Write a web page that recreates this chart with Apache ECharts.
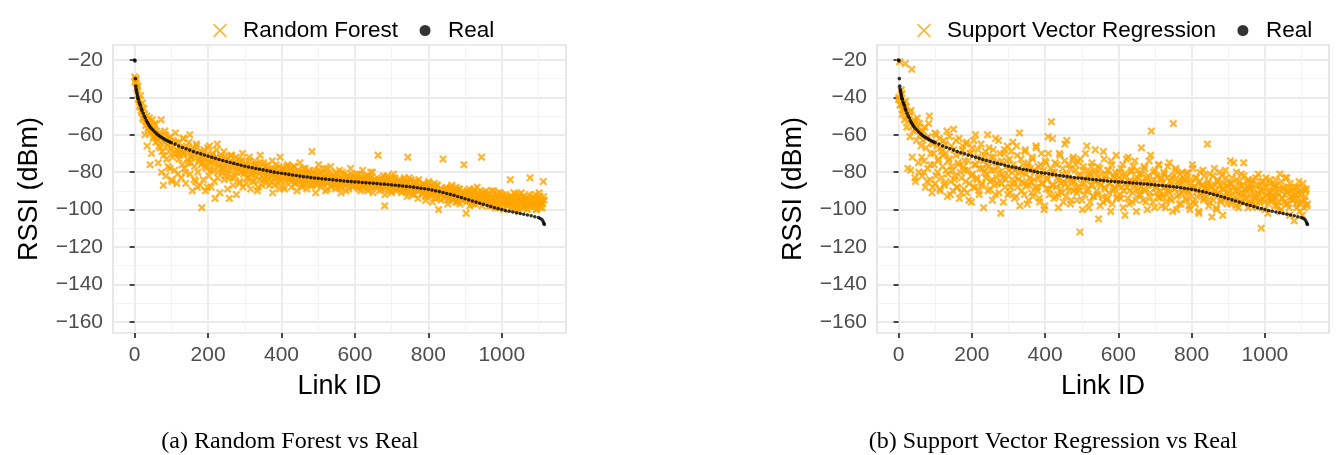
<!DOCTYPE html>
<html>
<head>
<meta charset="utf-8">
<title>RSSI prediction vs real</title>
<script src="https://cdn.jsdelivr.net/npm/echarts@6.0.0/dist/echarts.min.js"></script>
<style>
  html, body { margin: 0; padding: 0; background: #fff; }
  #chart { width: 1339px; height: 455px; }
</style>
</head>
<body>
<div id="chart"></div>
<script>
// measured RSSI, sorted by link, dense at the start where it drops fast
const realLinkIds = [0, 1, 2, 3, 4, 5, 6, 7, 8, 9, 10, 12, 14, 16, 18, 20, 23, 26, 29, 32, 35, 38, 41, 45, 50, 55, 60, 65, 70, 75, 80, 85, 90, 95,
  100, 110, 120, 130, 140, 150, 160, 170, 180, 190, 200, 210, 220, 230, 240, 250, 260, 270, 280, 290,
  300, 310, 320, 330, 340, 350, 360, 370, 380, 390, 400, 410, 420, 430, 440, 450, 460, 470, 480, 490,
  500, 510, 520, 530, 540, 550, 560, 570, 580, 590, 600, 610, 620, 630, 640, 650, 660, 670, 680, 690,
  700, 710, 720, 730, 740, 750, 760, 770, 780, 790, 800, 810, 820, 830, 840, 850, 860, 870, 880, 890,
  900, 910, 920, 930, 940, 950, 960, 970, 980, 990, 1000, 1010, 1020, 1030, 1040, 1050, 1060, 1070, 1080, 1090,
  1100, 1105, 1110, 1113, 1115, 1116];
const realRssi = [-20, -20.5, -30, -34, -35.5, -36.5, -37.5, -38.5, -39.5, -40.5, -41, -42.5, -43.5, -44.5, -46, -47, -48.5, -50, -51, -52.5, -53.5, -54.5, -55.5, -56.5, -57.5, -58.5, -59.5, -60.3, -61, -61.6, -62.2, -62.8, -63.3, -63.8,
  -64.3, -65, -66, -66.8, -67.5, -68.2, -69, -69.6, -70.2, -70.8, -71.4, -72, -72.6, -73.2, -73.8, -74.3, -74.8, -75.3, -75.8, -76.3,
  -76.8, -77.2, -77.6, -78, -78.4, -78.8, -79.2, -79.6, -80, -80.3, -80.6, -80.9, -81.2, -81.5, -81.8, -82.1, -82.4, -82.6, -82.9, -83.1,
  -83.3, -83.5, -83.7, -83.9, -84.1, -84.3, -84.5, -84.7, -84.9, -85.05, -85.2, -85.3, -85.5, -85.6, -85.8, -85.9, -86.1, -86.3, -86.4, -86.6,
  -86.8, -87, -87.2, -87.4, -87.6, -87.8, -88, -88.3, -88.6, -88.9, -89.2, -89.6, -90, -90.4, -90.9, -91.4, -91.9, -92.4, -93, -93.6,
  -94.2, -94.8, -95.4, -96, -96.6, -97.2, -97.8, -98.4, -99, -99.5, -100, -100.5, -100.9, -101.3, -101.7, -102.1, -102.5, -102.9, -103.3, -103.8,
  -104.3, -104.8, -105.5, -106.5, -107.5, -108];

// predicted RSSI: the A lists hold links 0, 3, 6, ... and the B lists links 1, 4, 7, ...
const LINK_STEP = 3;
const rfRssiA = [
  -29, -31, -35, -34, -41, -44, -47, -43, -52, -49, -55, -50, -57, -53, -76, -58, -52, -62, -55, -60,
  -58, -63, -66, -61, -52, -69, -87, -64, -60, -73, -66, -62, -78, -67, -85, -63, -70, -59, -68, -81,
  -64, -71, -68, -76, -62, -70, -80, -66, -73, -69, -60, -75, -72, -67, -84, -71, -65, -88, -74, -69,
  -72, -99, -75, -68, -77, -71, -88, -74, -66, -79, -73, -70, -76, -94, -72, -65, -80, -75, -71, -78,
  -75, -69, -82, -76, -73, -79, -94, -74, -71, -83, -77, -75, -72, -80, -78, -86, -74, -77, -70, -81,
  -79, -75, -83, -78, -72, -81, -77, -85, -79, -74, -80, -76, -88, -78, -71, -82, -79, -75, -84, -77,
  -80, -76, -84, -79, -82, -74, -81, -87, -78, -80, -83, -77, -72, -85, -80, -78, -89, -82, -79, -76,
  -82, -78, -85, -80, -83, -77, -86, -81, -79, -84, -75, -82, -88, -80, -83, -78, -81, -86, -79, -84,
  -81, -69, -85, -83, -79, -87, -82, -76, -84, -80, -86, -83, -78, -85, -81, -89, -83, -80, -77, -84,
  -85, -82, -87, -80, -84, -86, -79, -83, -88, -85, -81, -84, -90, -82, -86, -83, -78, -85, -87, -82,
  -84, -87, -81, -86, -89, -83, -85, -79, -88, -84, -86, -82, -90, -85, -87, -83, -80, -86, -84, -88,
  -85, -71, -87, -84, -89, -86, -82, -98, -88, -85, -83, -87, -90, -84, -86, -81, -88, -85, -89, -86,
  -87, -84, -89, -86, -90, -83, -88, -85, -72, -91, -87, -84, -89, -86, -92, -85, -88, -90, -84, -87,
  -88, -91, -86, -89, -93, -87, -90, -85, -92, -88, -91, -89, -86, -94, -90, -87, -100, -92, -89, -91,
  -73, -90, -93, -88, -91, -95, -89, -92, -87, -94, -90, -93, -88, -96, -91, -89, -94, -92, -90, -76,
  -93, -102, -91, -95, -89, -94, -92, -97, -90, -93, -95, -88, -96, -92, -94, -72, -91, -95, -93, -90,
  -94, -96, -91, -95, -98, -93, -90, -97, -94, -92, -99, -95, -91, -96, -93, -97, -95, -92, -98, -94,
  -95, -84, -97, -93, -99, -96, -92, -98, -94, -101, -95, -91, -97, -93, -99, -96, -94, -98, -95, -83,
  -96, -99, -94, -97, -92, -100, -95, -98, -93, -96, -99, -85, -95
];
const rfRssiB = [
  -32, -30, -36, -41, -45, -39, -48, -51, -46, -60, -53, -66, -56, -51, -59, -70, -57, -61, -54, -64,
  -62, -75, -59, -67, -80, -63, -71, -58, -82, -65, -77, -69, -61, -84, -72, -66, -79, -64, -86, -70,
  -73, -67, -83, -70, -62, -78, -86, -68, -75, -64, -81, -72, -90, -69, -77, -85, -66, -80, -73, -87,
  -76, -70, -84, -73, -90, -78, -67, -82, -75, -88, -71, -79, -85, -74, -68, -83, -77, -91, -72, -80,
  -78, -84, -72, -80, -89, -76, -83, -71, -79, -87, -75, -82, -92, -77, -73, -85, -80, -74, -88, -79,
  -80, -86, -77, -83, -74, -89, -81, -78, -85, -76, -82, -90, -79, -84, -75, -87, -80, -83, -77, -86,
  -82, -78, -87, -80, -85, -91, -79, -83, -76, -86, -81, -89, -84, -78, -82, -88, -80, -85, -77, -83,
  -84, -80, -88, -83, -77, -86, -82, -90, -79, -85, -83, -87, -81, -78, -86, -84, -89, -82, -80, -87,
  -83, -87, -80, -85, -91, -82, -86, -79, -84, -88, -81, -85, -83, -90, -78, -86, -84, -82, -88, -85,
  -86, -83, -89, -81, -85, -88, -84, -91, -80, -86, -83, -87, -85, -82, -89, -84, -86, -81, -88, -85,
  -86, -83, -88, -85, -81, -90, -84, -87, -86, -82, -89, -85, -83, -88, -80, -86, -91, -84, -87, -85,
  -87, -84, -90, -86, -83, -88, -85, -92, -87, -82, -89, -86, -84, -91, -88, -85, -83, -90, -87, -86,
  -88, -85, -91, -87, -84, -90, -86, -93, -88, -83, -89, -87, -92, -85, -90, -88, -86, -94, -87, -89,
  -89, -92, -87, -90, -95, -88, -91, -86, -93, -89, -96, -90, -88, -92, -87, -94, -91, -89, -95, -90,
  -91, -94, -89, -92, -97, -90, -93, -88, -95, -91, -94, -96, -90, -93, -89, -97, -92, -95, -91, -94,
  -92, -96, -90, -94, -98, -91, -95, -93, -89, -97, -94, -92, -96, -90, -95, -98, -93, -91, -96, -94,
  -95, -92, -98, -94, -90, -97, -95, -99, -93, -96, -91, -98, -94, -97, -92, -100, -95, -93, -97, -96,
  -96, -93, -99, -95, -91, -98, -94, -100, -96, -92, -97, -95, -99, -93, -97, -94, -100, -96, -92, -98,
  -95, -98, -93, -97, -100, -94, -96, -91, -99, -95, -97, -93
];
const svrRssiA = [
  -41, -21, -44, -38, -47, -43, -22, -45, -50, -53, -48, -79, -25, -55, -52, -83, -57, -51, -75, -54,
  -58, -72, -63, -80, -56, -67, -85, -61, -50, -76, -64, -88, -70, -59, -82, -66, -74, -62, -90, -69,
  -77, -63, -86, -70, -58, -81, -73, -92, -66, -79, -57, -84, -71, -88, -75, -62, -80, -91, -68, -77,
  -74, -85, -64, -79, -95, -70, -82, -67, -88, -76, -60, -83, -72, -90, -78, -65, -86, -74, -80, -69,
  -81, -60, -77, -89, -72, -84, -68, -79, -92, -75, -86, -63, -80, -102, -74, -83, -70, -88, -77, -66,
  -82, -73, -88, -78, -64, -85, -79, -93, -71, -84, -59, -80, -90, -76, -86, -69, -81, -97, -75, -87,
  -78, -91, -73, -84, -80, -66, -88, -77, -94, -82, -70, -86, -79, -98, -75, -83, -61, -89, -81, -53,
  -62, -87, -80, -93, -76, -92, -84, -71, -89, -81, -96, -74, -86, -63, -83, -90, -78, -95, -85, -72,
  -85, -79, -91, -74, -88, -112, -82, -95, -77, -86, -70, -90, -83, -99, -80, -87, -75, -93, -84, -68,
  -81, -92, -105, -78, -87, -84, -96, -73, -89, -82, -94, -79, -86, -101, -76, -90, -83, -88, -71, -93,
  -87, -80, -94, -84, -76, -90, -103, -82, -88, -72, -97, -85, -79, -91, -86, -74, -95, -83, -89, -81,
  -92, -67, -85, -89, -78, -96, -83, -87, -74, -91, -58, -86, -80, -99, -88, -82, -93, -76, -90, -84,
  -86, -93, -81, -99, -88, -77, -91, -85, -95, -83, -54, -89, -79, -100, -87, -92, -84, -97, -80, -90,
  -89, -84, -95, -80, -91, -100, -86, -93, -78, -88, -97, -83, -90, -101, -85, -92, -87, -79, -94, -89,
  -90, -65, -85, -96, -88, -104, -82, -92, -87, -99, -84, -91, -80, -95, -89, -103, -86, -93, -83, -97,
  -88, -93, -74, -86, -95, -75, -90, -98, -84, -92, -87, -96, -81, -91, -75, -89, -94, -85, -99, -88,
  -92, -86, -97, -89, -94, -83, -99, -91, -87, -95, -110, -90, -85, -96, -93, -88, -102, -91, -84, -94,
  -90, -95, -88, -93, -87, -98, -92, -81, -100, -94, -89, -96, -83, -91, -97, -88, -103, -93, -90, -95,
  -106, -92, -97, -88, -94, -101, -90, -96, -86, -99, -93, -89, -97
];
const svrRssiB = [
  -40, -44, -36, -49, -46, -52, -42, -56, -78, -50, -61, -47, -72, -58, -53, -85, -63, -56, -80, -60,
  -66, -82, -58, -74, -88, -62, -78, -54, -84, -70, -91, -65, -76, -86, -60, -80, -73, -89, -67, -83,
  -71, -87, -65, -79, -93, -74, -61, -85, -77, -90, -68, -82, -63, -88, -76, -94, -70, -83, -66, -89,
  -79, -65, -91, -74, -86, -70, -96, -81, -63, -88, -76, -84, -68, -92, -73, -87, -78, -99, -71, -83,
  -76, -90, -67, -85, -79, -95, -72, -87, -62, -83, -77, -91, -70, -86, -81, -96, -68, -84, -74, -92,
  -79, -91, -69, -86, -76, -94, -82, -66, -88, -78, -98, -73, -85, -80, -92, -68, -87, -77, -95, -83,
  -85, -72, -93, -79, -88, -67, -90, -83, -96, -76, -86, -81, -100, -74, -89, -84, -70, -92, -78, -87,
  -80, -94, -75, -88, -83, -99, -70, -86, -91, -78, -85, -65, -93, -81, -88, -76, -97, -84, -73, -90,
  -88, -76, -95, -82, -90, -73, -86, -100, -79, -92, -84, -66, -89, -81, -96, -77, -87, -93, -80, -85,
  -90, -77, -86, -98, -81, -93, -69, -88, -84, -95, -79, -91, -86, -74, -97, -82, -89, -80, -94, -87,
  -83, -92, -78, -88, -99, -81, -86, -73, -94, -85, -90, -80, -96, -77, -88, -84, -101, -79, -92, -86,
  -88, -81, -95, -77, -90, -85, -100, -82, -93, -71, -87, -96, -84, -79, -91, -88, -76, -94, -83, -98,
  -92, -80, -88, -96, -83, -90, -75, -94, -86, -101, -82, -89, -78, -93, -85, -97, -81, -91, -88, -84,
  -85, -94, -81, -90, -98, -84, -88, -76, -96, -89, -83, -93, -86, -102, -80, -91, -87, -95, -82, -88,
  -93, -86, -98, -81, -91, -88, -95, -78, -90, -100, -85, -92, -87, -96, -82, -89, -94, -79, -91, -87,
  -91, -86, -97, -83, -92, -88, -95, -80, -90, -99, -85, -93, -87, -96, -82, -91, -94, -88, -84, -97,
  -89, -95, -84, -92, -98, -87, -93, -81, -96, -90, -85, -94, -88, -100, -83, -92, -97, -86, -91, -95,
  -93, -87, -98, -84, -91, -96, -89, -101, -85, -94, -88, -92, -97, -83, -90, -99, -86, -93, -95, -89,
  -94, -88, -99, -91, -85, -97, -92, -103, -89, -95, -90, -98
];

// axis ticks
const xTicks = [0, 200, 400, 600, 800, 1000];
const xMinorTicks = [100, 300, 500, 700, 900, 1100];
const yTicks = [-160, -140, -120, -100, -80, -60, -40, -20];
const yMinorTicks = [-150, -130, -110, -90, -70, -50, -30];

const FONT = '"Liberation Sans", Arial, Helvetica, sans-serif';
const ORANGE = '#FFA500';
const CROSS = 'path://M0,2L2,0L5,3L8,0L10,2L7,5L10,8L8,10L5,7L2,10L0,8L3,5Z';
// legend icons are padded inside a 16x16 box with the two M points
const LEGEND_CROSS = 'path://M0,0M16,16M1,2.2L2.2,1L8,6.8L13.8,1L15,2.2L9.2,8L15,13.8L13.8,15L8,9.2L2.2,15L1,13.8L6.8,8Z';
const LEGEND_DOT = 'path://M0,0M16,16M2.5,8A5.5,5.5,0,1,1,13.5,8A5.5,5.5,0,1,1,2.5,8Z';

const toPoints = (vals, offset) => vals.map((v, i) => [i * LINK_STEP + offset, v]);
const realPoints = realLinkIds.map((id, i) => [id, realRssi[i]]);
const rfPoints = toPoints(rfRssiA, 0).concat(toPoints(rfRssiB, 1));
const svrPoints = toPoints(svrRssiA, 0).concat(toPoints(svrRssiB, 1));

const minusSign = v => String(v).replace('-', '\u2212');

function xAxes(gridIndex) {
  return [
    {
      type: 'value', gridIndex, min: -59, max: 1175,
      name: 'Link ID', nameLocation: 'middle', nameGap: 40,
      nameTextStyle: { fontFamily: FONT, fontSize: 27, color: '#000' },
      axisLine: { show: false },
      axisTick: { show: true, length: 5, customValues: xTicks, lineStyle: { color: '#333', width: 1.8 } },
      axisLabel: { customValues: xTicks, margin: 12, fontFamily: FONT, fontSize: 21, color: '#4d4d4d', formatter: v => String(v) },
      splitLine: { show: true, lineStyle: { color: '#ebebeb', width: 1.8 } }
    },
    {
      // minor grid lines only
      type: 'value', gridIndex, min: -59, max: 1175, position: 'bottom',
      axisLine: { show: false },
      axisTick: { show: false, customValues: xMinorTicks },
      axisLabel: { show: false, customValues: xMinorTicks },
      splitLine: { show: true, lineStyle: { color: '#f3f3f3', width: 1 } }
    }
  ];
}

function yAxes(gridIndex) {
  return [
    {
      type: 'value', gridIndex, min: -166, max: -12,
      name: 'RSSI (dBm)', nameLocation: 'middle', nameGap: 70, nameRotate: 90,
      nameTextStyle: { fontFamily: FONT, fontSize: 27, color: '#000' },
      axisLine: { show: false },
      axisTick: { show: true, length: 5, customValues: yTicks, lineStyle: { color: '#333', width: 1.8 } },
      axisLabel: { customValues: yTicks, margin: 10, fontFamily: FONT, fontSize: 21, color: '#4d4d4d', formatter: minusSign },
      splitLine: { show: true, lineStyle: { color: '#ebebeb', width: 1.8 } }
    },
    {
      type: 'value', gridIndex, min: -166, max: -12, position: 'left',
      axisLine: { show: false },
      axisTick: { show: false, customValues: yMinorTicks },
      axisLabel: { show: false, customValues: yMinorTicks },
      splitLine: { show: true, lineStyle: { color: '#f3f3f3', width: 1 } }
    }
  ];
}

function legend(left, first) {
  return {
    left, top: 14, orient: 'horizontal',
    itemWidth: 16, itemHeight: 16, itemGap: 19,
    textStyle: { fontFamily: FONT, fontSize: 22.5, color: '#000', padding: [0, 0, 0, 10] },
    data: [{ name: first, icon: LEGEND_CROSS }, { name: 'Real', icon: LEGEND_DOT }]
  };
}

const chart = echarts.init(document.getElementById('chart'));

const options = {
  animation: false,
  backgroundColor: '#fff',
  grid: [
    { left: 113, top: 45, width: 453, height: 288, show: true, borderColor: '#d6d6d6', borderWidth: 1.2, backgroundColor: '#fff', outerBoundsMode: 'none' },
    { left: 877, top: 45, width: 452, height: 288, show: true, borderColor: '#d6d6d6', borderWidth: 1.2, backgroundColor: '#fff', outerBoundsMode: 'none' }
  ],
  xAxis: [...xAxes(0), ...xAxes(1)],
  yAxis: [...yAxes(0), ...yAxes(1)],
  legend: [legend(207, 'Random Forest'), legend(911, 'Support Vector Regression')],
  series: [
    {
      name: 'Random Forest', type: 'scatter', xAxisIndex: 0, yAxisIndex: 0,
      data: rfPoints, symbol: CROSS, symbolSize: 8, itemStyle: { color: ORANGE }
    },
    {
      name: 'Real', type: 'scatter', xAxisIndex: 0, yAxisIndex: 0,
      data: realPoints, symbol: 'circle', symbolSize: 3.6, itemStyle: { color: '#000' }
    },
    {
      name: 'Support Vector Regression', type: 'scatter', xAxisIndex: 2, yAxisIndex: 2,
      data: svrPoints, symbol: CROSS, symbolSize: 8, itemStyle: { color: ORANGE }
    },
    {
      name: 'Real', type: 'scatter', xAxisIndex: 2, yAxisIndex: 2,
      data: realPoints, symbol: 'circle', symbolSize: 3.6, itemStyle: { color: '#000' }
    }
  ],
  graphic: [
    { type: 'text', x: 290, y: 442, style: { text: '(a) Random Forest vs Real', font: '24px "Liberation Serif", "Times New Roman", serif', fill: '#000', align: 'center', verticalAlign: 'middle' } },
    { type: 'text', x: 1053, y: 442, style: { text: '(b) Support Vector Regression vs Real', font: '24px "Liberation Serif", "Times New Roman", serif', fill: '#000', align: 'center', verticalAlign: 'middle' } }
  ]
};

chart.setOption(options);
</script>
</body>
</html>
